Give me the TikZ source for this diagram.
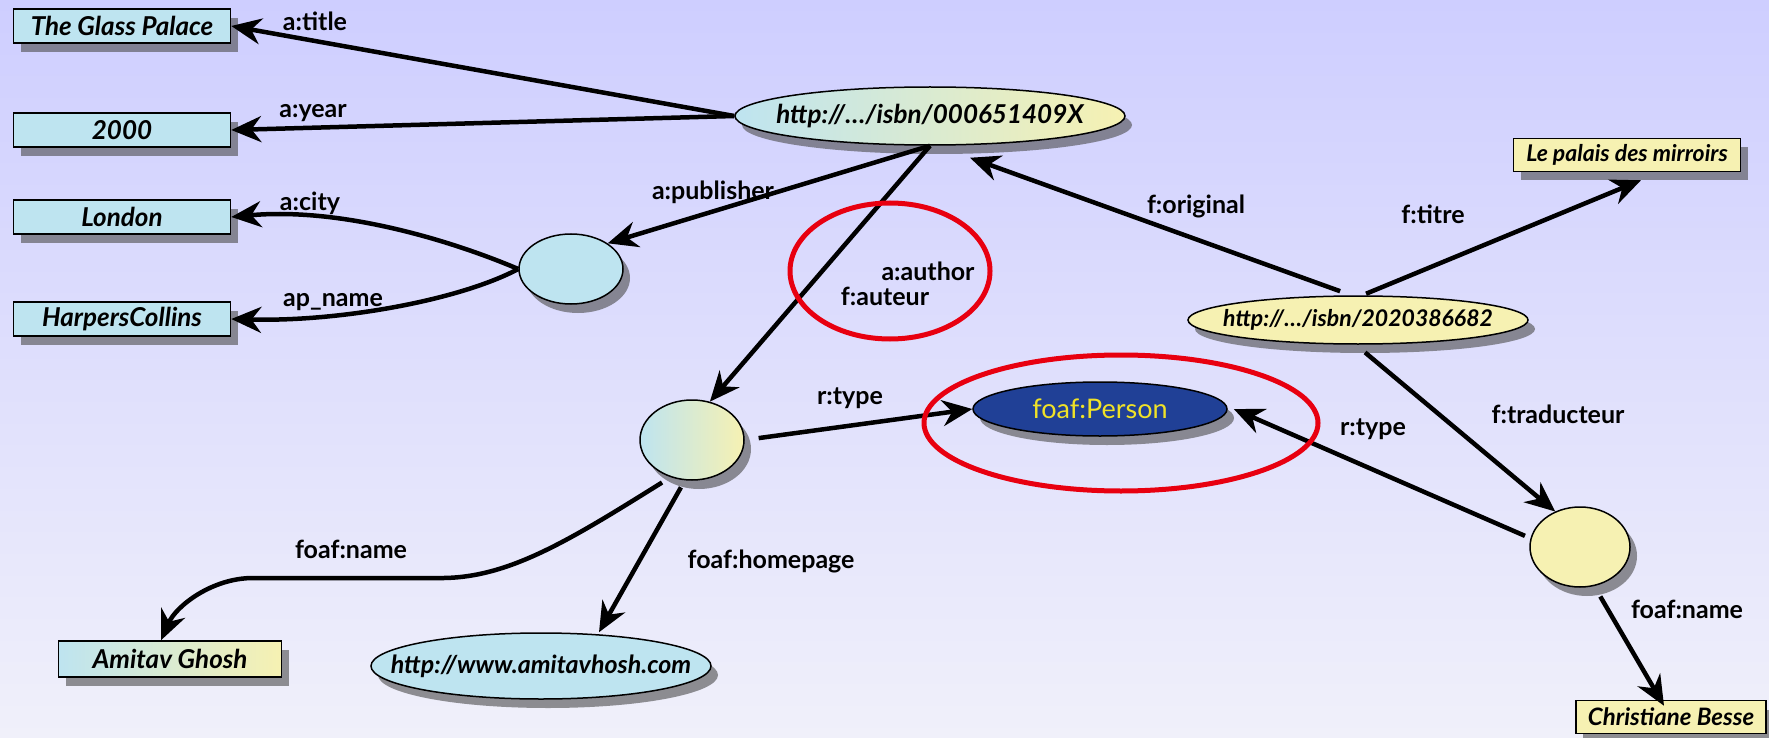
\documentclass[tikz,border=0pt]{standalone}
\usepackage{fontspec}
\setmainfont{Lato}
\usetikzlibrary{shapes.geometric,arrows.meta,shadows,calc}
\definecolor{bgtop}{RGB}{206,206,255}
\definecolor{bgbot}{RGB}{240,240,250}
\definecolor{litblue}{RGB}{190,228,240}
\definecolor{lityel}{RGB}{246,241,178}
\definecolor{persblue}{RGB}{32,64,150}
\definecolor{persyel}{RGB}{240,226,40}
\definecolor{annred}{RGB}{232,0,16}
\tikzset{
  shad/.style={drop shadow={shadow xshift=7pt,shadow yshift=-9pt,opacity=0.6,fill=black!70}},
  litbox/.style={rectangle,draw=black,line width=1.5pt,fill=litblue,shad,inner sep=0pt,
     font=\fontsize{26}{28}\selectfont\bfseries\itshape},
  reso/.style={ellipse,draw=black,line width=1.5pt,shad,inner sep=0pt,
     font=\fontsize{25}{27}\selectfont\bfseries\itshape},
  blank/.style={ellipse,draw=black,line width=1.5pt,shad,inner sep=0pt},
  rel/.style={line width=4.5pt,black,-{Stealth[length=30pt,width=26pt]}},
  elab/.style={font=\fontsize{25}{27}\selectfont\bfseries,inner sep=1pt},
  ann/.style={draw=annred,line width=5pt}
}
\begin{document}
\begin{tikzpicture}[x=1pt,y=-1pt]
\fill[top color=bgtop,bottom color=bgbot] (0,0) rectangle (1769,738);
\useasboundingbox (0,0) rectangle (1769,738);

% literal boxes
\node[litbox,minimum width=217pt,minimum height=34pt] (glass) at (122,26) {The Glass Palace};
\node[litbox,minimum width=217pt,minimum height=34pt] (year) at (122,130) {2000};
\node[litbox,minimum width=217pt,minimum height=34pt] (london) at (122,217) {London};
\node[litbox,minimum width=217pt,minimum height=34pt] (harpers) at (122,319) {HarpersCollins};
\node[litbox,fill=lityel,minimum width=227pt,minimum height=33pt,font=\fontsize{23}{25}\selectfont\bfseries\itshape] (palais) at (1627,155) {Le palais des mirroirs};
\node[litbox,fill=lityel,minimum width=190pt,minimum height=33pt,font=\fontsize{24}{26}\selectfont\bfseries\itshape] (besse) at (1671,717) {Christiane Besse};
\node[litbox,left color=litblue,right color=lityel,minimum width=223pt,minimum height=36pt] (amitav) at (170,659) {Amitav Ghosh};

% resources
\node[reso,left color=litblue,right color=lityel,minimum width=390pt,minimum height=58pt,font=\fontsize{26}{28}\selectfont\bfseries\itshape] (book) at (930,116) {\makebox[0pt]{http://\ldots/isbn/000651409X}};
\node[reso,fill=lityel,minimum width=340pt,minimum height=48pt,font=\fontsize{23}{25}\selectfont\bfseries\itshape] (book2) at (1358,320) {\makebox[0pt]{http://\ldots/isbn/2020386682}};
\node[reso,fill=persblue,text=persyel,minimum width=254pt,minimum height=54pt,font=\fontsize{27}{29}\selectfont] (person) at (1100,409) {\makebox[0pt]{foaf:Person}};
\node[reso,fill=litblue,minimum width=340pt,minimum height=66pt] (home) at (541,666) {\makebox[0pt]{http://www.amitavhosh.com}};

% blank nodes
\node[blank,fill=litblue,minimum width=104pt,minimum height=70pt] (pub) at (571,269) {};
\node[blank,left color=litblue,right color=lityel,minimum width=104pt,minimum height=80pt] (author) at (692,440) {};
\node[blank,fill=lityel,minimum width=100pt,minimum height=80pt] (trans) at (1580,547) {};

% connectors
\draw[rel] (book.west) -- (glass.east);
\draw[rel] (book.west) -- (year.east);
\draw[rel] (pub.west) .. controls (450,240) and (340,207) .. (london.east);
\draw[rel] (pub.west) .. controls (460,300) and (340,322) .. (harpers.east);
\draw[rel] (book.south) -- (pub.35);
\draw[rel] (book.south) -- (author.65);
\draw[rel,shorten <=12pt] (book2.105) -- ([xshift=40pt,yshift=-12pt]book.south);
\draw[rel,shorten <=4pt] (book2.80) -- ([xshift=14pt,yshift=-8pt]palais.south);
\draw[rel,shorten <=12pt] (book2.-95) -- (trans.125);
\draw[rel,shorten <=14pt] (author.east) -- (person.west);
\draw[rel,shorten <=6pt] (trans.170) -- ([xshift=6pt]person.east);
\draw[rel,shorten <=10pt] (author.-120) .. controls (570,540) and (510,577) .. (444,578) -- (253,578) .. controls (212,578) and (176,606) .. ([xshift=-9pt]amitav.north);
\draw[rel,shorten <=8pt] (author.-100) -- ([xshift=58pt]home.north);
\draw[rel,shorten <=12pt] (trans.-70) -- ([xshift=-7pt,yshift=-6pt]besse.north);

% edge labels
\node[elab] (ltitle) at (315,21) {a:title};
\node[elab] (lyear) at (313,113) {a:year};
\node[elab] (lcity) at (310,203) {a:city};
\node[elab] (lpname) at (333,302) {ap\_name};
\node[elab] (lpublisher) at (713,192) {a:publisher};
\node[elab] (lauthor) at (928,271) {a:author};
\node[elab] (lauteur) at (885,296) {f:auteur};
\node[elab] (loriginal) at (1196,206) {f:original};
\node[elab] (ltitre) at (1433,214) {f:titre};
\node[elab] (ltrad) at (1558,414) {f:traducteur};
\node[elab] (ltype1) at (850,398) {r:type};
\node[elab] (ltype2) at (1373,429) {r:type};
\node[elab] (lname1) at (351,549) {foaf:name};
\node[elab] (lhome) at (771,561) {foaf:homepage};
\node[elab] (lname2) at (1687,609) {foaf:name};

% red annotations
\draw[ann] (890,271) ellipse [x radius=100pt,y radius=68pt];
\draw[ann] (1121,423) ellipse [x radius=197pt,y radius=68pt];
\end{tikzpicture}
\end{document}
